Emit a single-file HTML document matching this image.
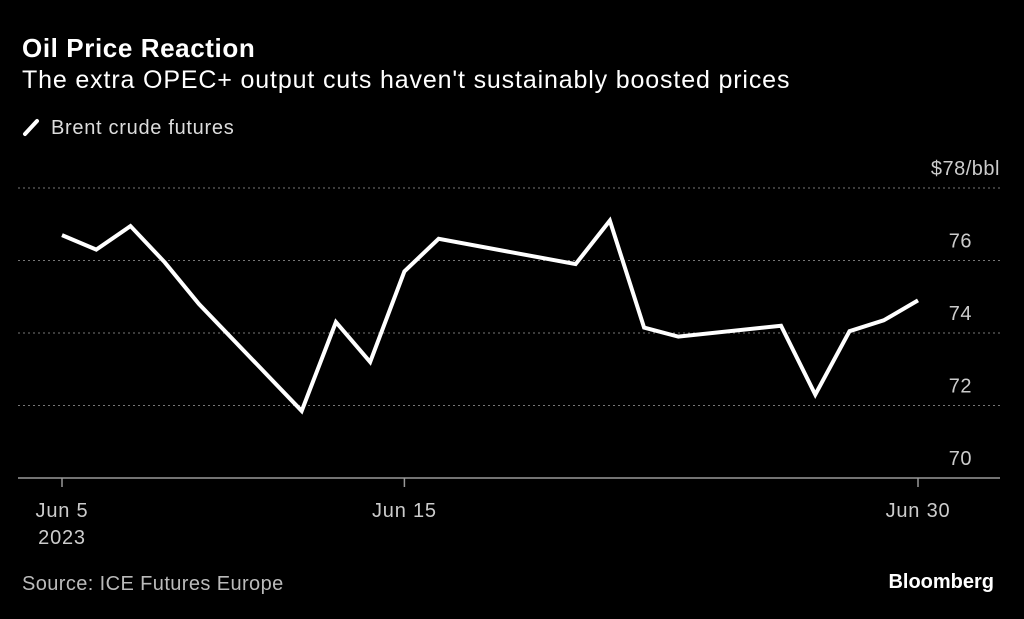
<!DOCTYPE html>
<html><head><meta charset="utf-8"><style>
body{margin:0;background:#000;width:1024px;height:619px;overflow:hidden;font-family:"Liberation Sans",sans-serif;color:#fff}
.t{position:absolute;white-space:nowrap}
</style></head><body>
<div class="t" style="left:22px;top:33px;font-size:26px;font-weight:bold;letter-spacing:0.6px">Oil Price Reaction</div>
<div class="t" style="left:22px;top:66px;font-size:25px;letter-spacing:0.85px">The extra OPEC+ output cuts haven't sustainably boosted prices</div>
<div class="t" style="left:22px;top:117px;font-size:20px;letter-spacing:0.7px;color:#ddd"><svg width="22" height="20" style="vertical-align:-3px;margin-right:7px"><line x1="3" y1="17" x2="15" y2="4" stroke="#fff" stroke-width="4" stroke-linecap="round"/></svg>Brent crude futures</div>
<svg id="c" width="1024" height="619" style="position:absolute;left:0;top:0"></svg>
<div class="t" style="left:22px;top:573px;font-size:20px;letter-spacing:0.4px;color:#bbb">Source: ICE Futures Europe</div>
<div class="t" style="right:30px;top:571px;font-size:20px;font-weight:bold">Bloomberg</div>
<script>
const days=[5,6,7,8,9,12,13,14,15,16,20,21,22,23,26,27,28,29,30];
const prices=[76.7,76.3,76.95,75.95,74.8,71.85,74.3,73.2,75.7,76.6,75.9,77.1,74.15,73.9,74.2,72.3,74.05,74.35,74.9];
const yTicks=[70,72,74,76,78];
const xTicks=[5,15,30];
const xTickLabels=["Jun 5","Jun 15","Jun 30"];
const ns="http://www.w3.org/2000/svg",svg=document.getElementById('c');
const X=d=>62+(d-5)*34.24, Y=v=>478-(v-70)*36.25;
function mk(t,a){const e=document.createElementNS(ns,t);for(const k in a)e.setAttribute(k,a[k]);svg.appendChild(e);return e;}
yTicks.forEach(v=>{
  if(v>70){const g=mk('line',{x1:18,x2:1000,y1:Y(v),y2:Y(v),stroke:'#777','stroke-dasharray':'2,3'});
  
  }
  const t=mk('text',{x:v==78?1000:972,y:Y(v)-13,fill:'#ccc','font-size':20,'letter-spacing':0.5,'text-anchor':'end','font-family':'Liberation Sans'});
  t.textContent=v==78?'$78/bbl':v;
  
  
});
const b=mk('line',{x1:18,x2:1000,y1:478,y2:478,stroke:'#999','stroke-width':1.5});


xTicks.forEach((d,i)=>{
  const l=mk('line',{x1:X(d),x2:X(d),y1:478,y2:487,stroke:'#999','stroke-width':1.5});
  
  
  const t=mk('text',{x:X(d),y:517,fill:'#ccc','font-size':20,'letter-spacing':0.8,'text-anchor':'middle','font-family':'Liberation Sans'});
  t.textContent=xTickLabels[i];
  
  
});
const yr=mk('text',{x:X(5),y:544,fill:'#ccc','font-size':20,'letter-spacing':0.8,'text-anchor':'middle','font-family':'Liberation Sans'});
yr.textContent='2023';


const p=mk('polyline',{points:days.map((d,i)=>X(d)+','+Y(prices[i])).join(' '),fill:'none',stroke:'#fff','stroke-width':4,'stroke-linejoin':'miter'});


</script>
</body></html>
